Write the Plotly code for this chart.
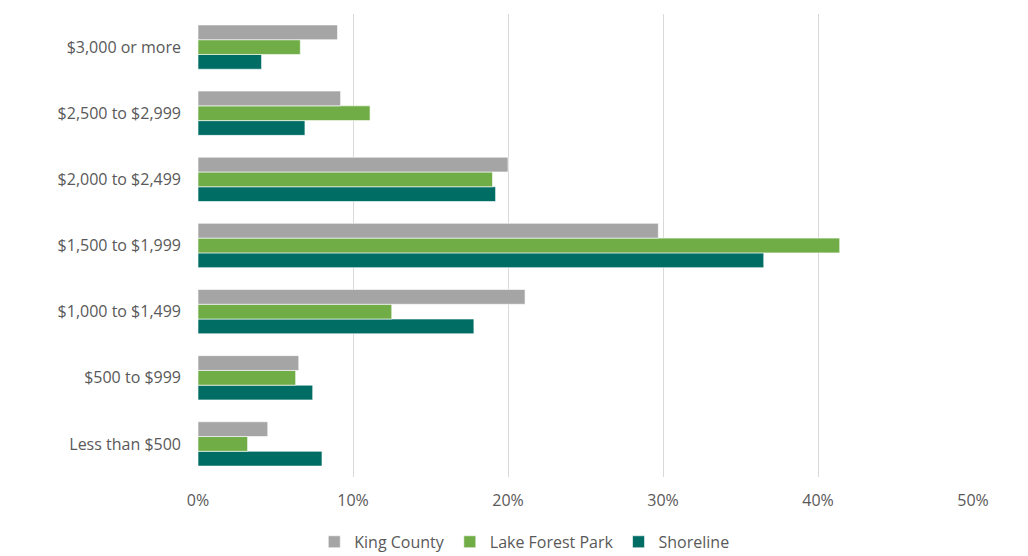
import plotly.graph_objects as go

categories = ["Less than $500", "$500 to $999", "$1,000 to $1,499", "$1,500 to $1,999",
              "$2,000 to $2,499", "$2,500 to $2,999", "$3,000 or more"]
king_county = [4.5, 6.5, 21.1, 29.7, 20.0, 9.2, 9.0]
lake_forest_park = [3.2, 6.3, 12.5, 41.4, 19.0, 11.1, 6.6]
shoreline = [8.0, 7.4, 17.8, 36.5, 19.2, 6.9, 4.1]
x_ticks = [0, 10, 20, 30, 40, 50]
x_tick_labels = ["0%", "10%", "20%", "30%", "40%", "50%"]

fig = go.Figure()
# Added bottom-to-top within each group
fig.add_trace(go.Bar(y=categories, x=[v / 100 for v in shoreline], name="Shoreline", orientation="h",
                     marker=dict(color="#006D65", line=dict(color="#FFFFFF", width=0.6))))
fig.add_trace(go.Bar(y=categories, x=[v / 100 for v in lake_forest_park], name="Lake Forest Park", orientation="h",
                     marker=dict(color="#70AD47", line=dict(color="#FFFFFF", width=0.6))))
fig.add_trace(go.Bar(y=categories, x=[v / 100 for v in king_county], name="King County", orientation="h",
                     marker=dict(color="#A5A5A5", line=dict(color="#FFFFFF", width=0.6))))

fig.update_layout(
    width=1028, height=556,
    barmode="group", bargap=0.33, bargroupgap=0,
    plot_bgcolor="white", paper_bgcolor="white",
    margin=dict(l=198, r=55, t=14, b=79, autoexpand=False),
    font=dict(family="Open Sans", size=16, color="#595959"),
    xaxis=dict(range=[0, 0.5], tickvals=[t / 100 for t in x_ticks], ticktext=x_tick_labels,
               showgrid=True, gridcolor="#D9D9D9", gridwidth=1, zeroline=False,
               showline=False, ticks="", fixedrange=True, ticklabelstandoff=12),
    yaxis=dict(categoryorder="array", categoryarray=categories, showgrid=False,
               showline=False, ticks="", ticklabelstandoff=16, zeroline=False),
    legend=dict(orientation="h", traceorder="reversed", x=0.51, xanchor="center", xref="container",
                y=0.056, yanchor="top", yref="container", font=dict(size=16, color="#595959"),
                itemwidth=30),
    showlegend=True,
)

fig.write_html("out.html")
